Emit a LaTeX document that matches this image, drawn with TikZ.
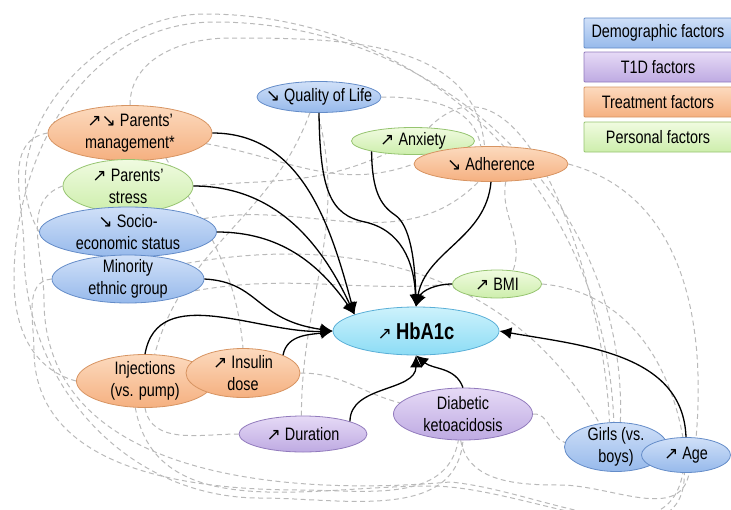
\documentclass[tikz,border=0pt]{standalone}
\usepackage{fontspec}
\setmainfont{Liberation Sans}[FakeStretch=0.8]
\newfontfamily\arrowfont{DejaVu Sans}[Scale=0.95]
\usetikzlibrary{shapes.geometric,arrows.meta,backgrounds}

\newcommand{\incr}{{\arrowfont ↗}}
\newcommand{\decr}{{\arrowfont ↘}}

\definecolor{blueT}{RGB}{208,224,248}
\definecolor{blueB}{RGB}{150,185,235}
\definecolor{blueD}{RGB}{100,140,200}
\definecolor{purpT}{RGB}{230,218,246}
\definecolor{purpB}{RGB}{190,170,226}
\definecolor{purpD}{RGB}{145,122,188}
\definecolor{oranT}{RGB}{252,218,190}
\definecolor{oranB}{RGB}{245,176,128}
\definecolor{oranD}{RGB}{215,148,98}
\definecolor{greeT}{RGB}{240,251,224}
\definecolor{greeB}{RGB}{205,238,172}
\definecolor{greeD}{RGB}{150,196,112}
\definecolor{cyanT}{RGB}{205,242,252}
\definecolor{cyanB}{RGB}{140,220,245}
\definecolor{cyanD}{RGB}{90,175,215}

\tikzset{
  factor/.style={ellipse, draw, line width=0.8pt, inner sep=0pt},
  demo/.style={factor, draw=blueD, top color=blueT, bottom color=blueB},
  tone/.style={factor, draw=purpD, top color=purpT, bottom color=purpB},
  treat/.style={factor, draw=oranD, top color=oranT, bottom color=oranB},
  pers/.style={factor, draw=greeD, top color=greeT, bottom color=greeB},
  outcome/.style={factor, draw=cyanD, top color=cyanT, bottom color=cyanB},
  legbox/.style={rectangle, draw, line width=0.8pt, rounded corners=1pt, minimum width=148pt, minimum height=30pt},
  cause/.style={line width=1.3pt, -{Latex[length=12pt,width=12pt]}},
  assoc/.style={gray!55, line width=1pt, dash pattern=on 5pt off 3.5pt},
}

\begin{document}
\begin{tikzpicture}[x=1pt,y=1pt,font=\fontsize{18}{22}\selectfont]
\useasboundingbox (0,0) rectangle (731,-509);

\node[treat, minimum width=164pt, minimum height=55pt, label={[align=center]center:{\incr\decr\ Parents'\\management*}}] (mgmt) at (130,-133) {};
\node[pers, minimum width=130pt, minimum height=53pt, label={[align=center]center:{\incr\ Parents'\\stress}}] (stress) at (128,-186) {};
\node[demo, minimum width=177pt, minimum height=50pt, label={[align=center]center:{\decr\ Socio-\\economic status}}] (socio) at (128,-232) {};
\node[demo, minimum width=152pt, minimum height=48pt, label={[align=center]center:{Minority\\ethnic group}}] (minority) at (128,-279) {};
\node[demo, minimum width=124pt, minimum height=31pt, label={center:{\decr\ Quality of Life}}] (qol) at (319,-97) {};
\node[pers, minimum width=123pt, minimum height=27pt, label={center:{\incr\ Anxiety}}] (anxiety) at (413,-141) {};
\node[treat, minimum width=154pt, minimum height=35pt, label={center:{\decr\ Adherence}}] (adher) at (491,-164) {};
\node[pers, minimum width=89pt, minimum height=28pt, label={center:{\incr\ BMI}}] (bmi) at (497,-284) {};
\node[outcome, minimum width=166pt, minimum height=48pt, label={center:{\incr\ \fontsize{23}{26}\selectfont\bfseries HbA1c}}] (hba) at (416,-331) {};
\node[treat, minimum width=137pt, minimum height=53pt, label={[align=center]center:{Injections\\(vs. pump)}}] (inj) at (145,-381) {};
\node[treat, minimum width=114pt, minimum height=49pt, label={[align=center]center:{\incr\ Insulin\\dose}}] (insulin) at (243,-373) {};
\node[tone, minimum width=128pt, minimum height=36pt, label={center:{\incr\ Duration}}] (duration) at (303,-434) {};
\node[tone, minimum width=139pt, minimum height=52pt, label={[align=center]center:{Diabetic\\ketoacidosis}}] (dka) at (463,-414) {};
\node[demo, minimum width=103pt, minimum height=49pt, label={[align=center]center:{Girls (vs.\\boys)}}] (girls) at (616,-447) {};
\node[demo, minimum width=89pt, minimum height=35pt, label={center:{\incr\ Age}}] (age) at (686,-455) {};

% legend
\node[legbox, draw=blueD, top color=blueT, bottom color=blueB] (legdemo) at (658,-33) {Demographic factors};
\node[legbox, draw=purpD, top color=purpT, bottom color=purpB] (legtone) at (658,-67) {T1D factors};
\node[legbox, draw=oranD, top color=oranT, bottom color=oranB] (legtreat) at (658,-102) {Treatment factors};
\node[legbox, draw=greeD, top color=greeT, bottom color=greeB] (legpers) at (658,-137) {Personal factors};

% associations
\begin{pgfonlayer}{background}
\path[draw,assoc] (socio.west) to[out=120,in=180] (205,-14) to[out=0,in=92] (girls.95);
\path[draw,assoc] (inj.west) to[out=165,in=-90] (14,-280) to[out=90,in=180] (215,-22) to[out=0,in=88] (girls.80);
\path[draw,assoc] (mgmt.north) to[out=90,in=180] (230,-38) to[out=0,in=95] (adher.110);
\path[draw,assoc] (mgmt.west) to[out=190,in=90] (24,-250) to[out=-90,in=180] (260,-498) to[out=0,in=-95] (dka.south);
\path[draw,assoc] (minority.west) to[out=185,in=90] (34,-350) to[out=-90,in=180] (300,-490) to[out=0,in=-100] (dka.-100);
\path[draw,assoc] (stress.west) to[out=200,in=90] (44,-300) to[out=-90,in=185] (450,-482) to[out=-5,in=-100] (age.-100);
\path[draw,assoc] (inj.south) to[out=-80,in=180] (duration.west);
\path[draw,assoc] (inj.-110) to[out=-80,in=180] (430,-486) to[out=0,in=-90] (age.-95);
\path[draw,assoc] (dka.-95) to[out=-80,in=180] (560,-485) to[out=0,in=-100] (age.-80);
\path[draw,assoc] (qol.east) to[out=0,in=100] (adher.120);
\path[draw,assoc] (anxiety.40) to[out=45,in=92] (girls.105);
\path[draw,assoc] (adher.east) to[out=-15,in=85] (age.60);
\path[draw,assoc] (adher.-50) to[out=-100,in=70] (bmi.40);
\path[draw,assoc] (bmi.east) to[out=-5,in=100] (age.100);
\path[draw,assoc] (dka.east) to[out=5,in=160] (girls.175);
\path[draw,assoc] (mgmt.-8) to[out=-10,in=200] (adher.west);
\path[draw,assoc] (stress.east) to[out=5,in=205] (anxiety.205);
\path[draw,assoc] (socio.10) to[out=10,in=225] (adher.235);
\path[draw,assoc] (minority.15) to[out=10,in=120] (girls.125);
\path[draw,assoc] (minority.-10) to[out=10,in=185] (bmi.west);
\path[draw,assoc] (qol.-120) to[out=-110,in=75] (inj.70);
\path[draw,assoc] (mgmt.-35) to[out=-60,in=95] (insulin.north);
\path[draw,assoc] (duration.95) to[out=90,in=-75] (qol.-95);
\path[draw,assoc] (insulin.east) to[out=0,in=165] (dka.170);
\end{pgfonlayer}

% effects on HbA1c
\path[draw,cause] (mgmt.east) to[out=0,in=105] (hba.165);
\path[draw,cause] (stress.east) to[out=0,in=115] (hba.165);
\path[draw,cause] (socio.east) to[out=0,in=125] (hba.165);
\path[draw,cause] (qol.south) .. controls (320,-190) and (330,-215) .. (365,-222) .. controls (400,-230) and (414,-260) .. (hba.north);
\path[draw,cause] (anxiety.194) .. controls (372,-190) and (380,-205) .. (395,-215) .. controls (410,-225) and (415,-260) .. (hba.north);
\path[draw,cause] (adher.south) to[out=-95,in=80] (hba.north);
\path[draw,cause] (bmi.west) to[out=180,in=70] (hba.north);
\path[draw,cause] (minority.east) .. controls (260,-282) and (255,-320) .. (hba.west);
\path[draw,cause] (inj.north) to[out=80,in=182] (hba.west);
\path[draw,cause] (insulin.24) to[out=80,in=190] (hba.west);
\path[draw,cause] (duration.15) to[out=90,in=-90] (hba.south);
\path[draw,cause] (dka.north) to[out=110,in=-40] (hba.south);
\path[draw,cause] (age.north) to[out=92,in=-10] (hba.east);
\end{tikzpicture}
\end{document}
